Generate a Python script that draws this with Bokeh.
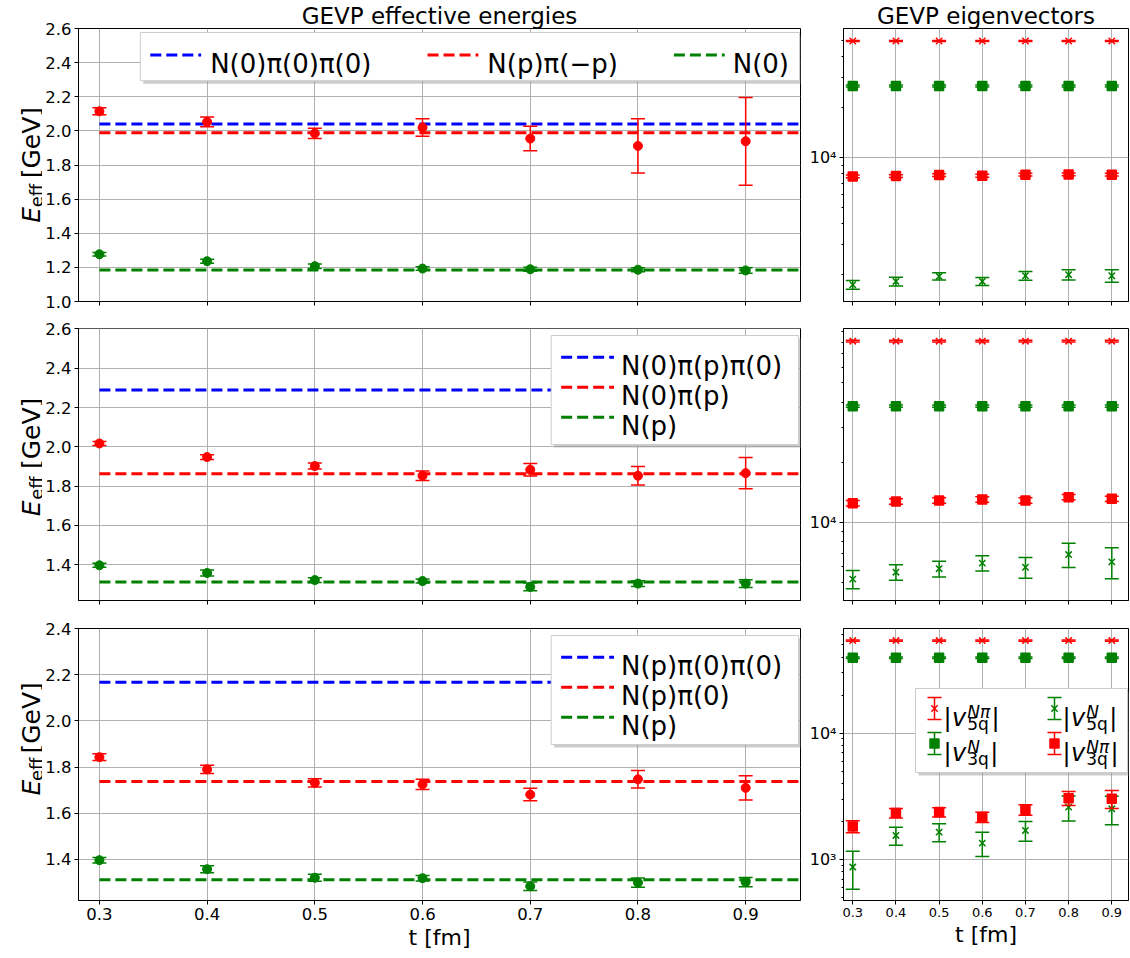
import math
from bokeh.plotting import figure
from bokeh.layouts import column, row
from bokeh.models import Range1d, FixedTicker, Label, NumeralTickFormatter
from bokeh.embed import file_html
from bokeh.resources import INLINE

FONT = "DejaVu Sans"
RED, GREEN, BLUE = "#ff0000", "#008000", "#0000ff"

# ------------------------------------------------------------------ data
t = [0.3, 0.4, 0.5, 0.6, 0.7, 0.8, 0.9]
t_fit = [0.3, 1.0]

# effective energies (GeV), row 1: N(0)pi(0)pi(0) / N(p)pi(-p) / N(0)
E_P0_Npi = [2.115, 2.053, 1.985, 2.020, 1.955, 1.912, 1.939]
E_P0_Npi_err = [0.020, 0.029, 0.030, 0.051, 0.072, 0.159, 0.257]
E_P0_N = [1.277, 1.236, 1.207, 1.193, 1.189, 1.186, 1.182]
E_P0_N_err = [0.010, 0.012, 0.013, 0.010, 0.012, 0.012, 0.016]
fit_P0 = [2.040, 1.989, 1.184]
leg_P0 = ["N(0)π(0)π(0)", "N(p)π(−p)", "N(0)"]

# row 2
E_P1_Npi = [2.017, 1.948, 1.902, 1.853, 1.883, 1.853, 1.866]
E_P1_Npi_err = [0.010, 0.012, 0.015, 0.024, 0.032, 0.047, 0.080]
E_P1_N = [1.397, 1.358, 1.322, 1.317, 1.287, 1.304, 1.304]
E_P1_N_err = [0.010, 0.015, 0.012, 0.010, 0.020, 0.015, 0.020]
fit_P1 = [2.289, 1.863, 1.312]
leg_P1 = ["N(0)π(p)π(0)", "N(0)π(p)", "N(p)"]

# row 3
E_P2_Npi = [1.843, 1.790, 1.732, 1.725, 1.681, 1.747, 1.710]
E_P2_Npi_err = [0.015, 0.018, 0.018, 0.022, 0.027, 0.038, 0.053]
E_P2_N = [1.397, 1.358, 1.321, 1.319, 1.284, 1.300, 1.302]
E_P2_N_err = [0.012, 0.015, 0.015, 0.012, 0.018, 0.020, 0.020]
fit_P2 = [2.167, 1.738, 1.312]
leg_P2 = ["N(p)π(0)π(0)", "N(p)π(0)", "N(p)"]

# eigenvector components
v_P0_5q_Npi = [49600, 49600, 49600, 49600, 49600, 49600, 49600]
v_P0_5q_Npi_err = [300, 300, 300, 300, 300, 300, 300]
v_P0_3q_N = [26700, 26700, 26700, 26700, 26700, 26700, 26700]
v_P0_3q_N_err = [400, 400, 400, 400, 400, 400, 400]
v_P0_5q_N = [1734, 1815, 1945, 1815, 1963, 1991, 1963]
v_P0_5q_N_err = [103, 108, 97, 100, 117, 137, 171]
v_P0_3q_Npi = [7700, 7735, 7843, 7771, 7880, 7916, 7880]
v_P0_3q_Npi_err = [150, 150, 150, 150, 150, 150, 150]

v_P1_5q_Npi = [80900, 80900, 80900, 80900, 80900, 80900, 80900]
v_P1_5q_Npi_err = [800, 800, 800, 800, 800, 800, 800]
v_P1_3q_N = [38200, 38200, 38200, 38200, 38200, 38200, 38200]
v_P1_3q_N_err = [500, 500, 500, 500, 500, 500, 500]
v_P1_5q_N = [5180, 5610, 5840, 6230, 5940, 6880, 6320]
v_P1_5q_N_err = [545, 505, 535, 550, 710, 960, 1125]
v_P1_3q_Npi = [12450, 12690, 12850, 13000, 12850, 13350, 13100]
v_P1_3q_Npi_err = [400, 400, 400, 400, 400, 400, 400]

v_P2_5q_Npi = [54100, 54100, 54100, 54100, 54100, 54100, 54100]
v_P2_5q_Npi_err = [600, 600, 600, 600, 600, 600, 600]
v_P2_3q_N = [39500, 39500, 39500, 39500, 39500, 39500, 39500]
v_P2_3q_N_err = [500, 500, 500, 500, 500, 500, 500]
v_P2_5q_N = [870, 1549, 1646, 1347, 1697, 2596, 2518]
v_P2_5q_N_err = [290, 253, 268, 292, 302, 580, 640]
v_P2_3q_Npi = [1825, 2327, 2370, 2163, 2472, 3058, 3020]
v_P2_3q_Npi_err = [200, 200, 200, 205, 235, 390, 490]

yticks_P0 = [1.0, 1.2, 1.4, 1.6, 1.8, 2.0, 2.2, 2.4, 2.6]
yticks_P1 = [1.4, 1.6, 1.8, 2.0, 2.2, 2.4, 2.6]
yticks_P2 = [1.4, 1.6, 1.8, 2.0, 2.2, 2.4]
log_major = [1000, 10000]
log_major_labels = {1000: "10³", 10000: "10⁴"}
log_minor = [m * 10 ** k for k in (2, 3, 4) for m in range(2, 10)]

titles = ["GEVP effective energies", "GEVP eigenvectors"]
xlabel = "t [fm]"

# ------------------------------------------------------------------ geometry helpers
XR_L = (0.2806, 0.9509)
XR_R = (0.2785, 0.9387)


class Frame:
    def __init__(self, L, T, R, B, xr, yr, log=False):
        self.L, self.T, self.R, self.B = L, T, R, B
        self.xr, self.yr, self.log = xr, yr, log

    def x(self, px):
        return self.xr[0] + (px - self.L) / (self.R - self.L) * (self.xr[1] - self.xr[0])

    def y(self, py):
        f = (py - self.T) / (self.B - self.T)
        if self.log:
            a, b = math.log10(self.yr[0]), math.log10(self.yr[1])
            return 10 ** (b - f * (b - a))
        return self.yr[1] - f * (self.yr[1] - self.yr[0])


def make_fig(w, h, bl, br, bt, bb, xr, yr, log=False, show_xlabels=False):
    p = figure(width=w, height=h, x_range=Range1d(*xr), y_range=Range1d(*yr),
               y_axis_type="log" if log else "linear",
               output_backend="svg", toolbar_location=None,
               min_border_left=bl, min_border_right=br,
               min_border_top=bt, min_border_bottom=bb)
    p.outline_line_color = "black"
    p.outline_line_width = 1
    p.background_fill_color = "white"
    p.border_fill_color = "white"
    for ax in (p.xaxis[0], p.yaxis[0]):
        ax.axis_line_color = "black"
        ax.major_tick_line_color = "black"
        ax.minor_tick_line_color = "black"
        ax.major_tick_out = 4
        ax.major_tick_in = 0
        ax.minor_tick_out = 2
        ax.minor_tick_in = 0
        ax.major_label_text_font = FONT
        ax.major_label_text_color = "black"
        ax.major_label_standoff = 3
        ax.axis_label_text_font = FONT
        ax.axis_label_text_font_style = "normal"
        ax.axis_label_text_color = "black"
        ax.axis_label_standoff = 2
    xt = FixedTicker(ticks=t, minor_ticks=[])
    p.xaxis.ticker = xt
    p.xgrid.ticker = xt
    p.xaxis.formatter = NumeralTickFormatter(format="0.0")
    if not show_xlabels:
        p.xaxis.major_label_overrides = {v: "" for v in t}
    p.grid.grid_line_color = "#b0b0b0"
    p.grid.grid_line_width = 1
    return p


def label_fig(w, h):
    p = figure(width=w, height=h, x_range=Range1d(0, w), y_range=Range1d(0, h),
               output_backend="svg", toolbar_location=None,
               x_axis_location=None, y_axis_location=None,
               min_border_left=0, min_border_right=0, min_border_top=0, min_border_bottom=0)
    p.outline_line_color = None
    p.grid.visible = False
    p.background_fill_color = "white"
    p.border_fill_color = "white"
    return p


def txt(p, fr, px, py, s, size, style="normal", align="left", angle=0.0):
    p.add_layout(Label(x=fr.x(px), y=fr.y(py), text=s, text_font=FONT,
                       text_font_size=f"{size}px", text_font_style=style,
                       text_align=align, text_baseline="alphabetic",
                       angle=angle, text_color="black"))


def err_bars(p, x, y, e, color, cap=14, lw=1.5):
    lo = [a - b for a, b in zip(y, e)]
    hi = [a + b for a, b in zip(y, e)]
    p.segment(x0=x, y0=lo, x1=x, y1=hi, line_color=color, line_width=lw)
    p.scatter(x=x + x, y=lo + hi, marker="dash", size=cap, line_color=color, line_width=lw)


def legend_box(p, fr, L, T, R, B):
    p.quad(left=[fr.x(L + 3)], right=[fr.x(R + 3)], top=[fr.y(T + 3)], bottom=[fr.y(B + 3)],
           fill_color="#999999", fill_alpha=0.5, line_color=None)
    p.quad(left=[fr.x(L)], right=[fr.x(R)], top=[fr.y(T)], bottom=[fr.y(B)],
           fill_color="white", fill_alpha=1.0, line_color="#cccccc", line_width=1)


def energy_panel(p, fits, Npi, Npi_err, N, N_err, yticks):
    yt = FixedTicker(ticks=yticks, minor_ticks=[])
    p.yaxis.ticker = yt
    p.ygrid.ticker = yt
    p.yaxis.formatter = NumeralTickFormatter(format="0.0")
    p.yaxis.major_label_text_font_size = "16.5px"
    p.xaxis.major_label_text_font_size = "16.5px"
    for val, col in zip(fits, [BLUE, RED, GREEN]):
        p.line(t_fit, [val, val], line_color=col, line_width=3, line_dash="11 5")
    err_bars(p, t, Npi, Npi_err, RED)
    p.scatter(t, Npi, marker="circle", size=9, color=RED)
    err_bars(p, t, N, N_err, GREEN)
    p.scatter(t, N, marker="circle", size=9, color=GREEN)


def ylabel(lp, lf, c):
    # y axis label  E_eff [GeV], centred on page y c
    s = c + 62
    txt(lp, lf, 31, s, "E", 25, "italic", angle=math.pi / 2)
    txt(lp, lf, 35.5, s - 18, "eff", 18, angle=math.pi / 2)
    txt(lp, lf, 31, s - 52, "[GeV]", 25, angle=math.pi / 2)


def legend_row(p, fr, labels):
    L, R = fr.L + 62, fr.R - 1
    T, B = fr.T + 4, fr.T + 52
    legend_box(p, fr, L, T, R, B)
    ly = fr.T + 26.5
    xs = [(72, 132), (350, 410), (597, 656)]
    for (lx, tx), lab, col in zip(xs, labels, [BLUE, RED, GREEN]):
        p.line([fr.x(fr.L + lx), fr.x(fr.L + lx + 51)], [fr.y(ly), fr.y(ly)],
               line_color=col, line_width=3, line_dash="11 5")
        txt(p, fr, fr.L + tx, ly + 9, lab, 26)


def legend_col(p, fr, labels):
    L, R = fr.L + 474, fr.R - 2
    T, B = fr.T + 7, fr.T + 116
    legend_box(p, fr, L, T, R, B)
    for i, (lab, col) in enumerate(zip(labels, [BLUE, RED, GREEN])):
        ly = fr.T + 28.7 + 30 * i
        p.line([fr.x(fr.L + 484), fr.x(fr.L + 537)], [fr.y(ly), fr.y(ly)],
               line_color=col, line_width=3, line_dash="11 5")
        txt(p, fr, fr.L + 544, ly + 9, lab, 26)


def vec_panel(p, series):
    yt = FixedTicker(ticks=log_major, minor_ticks=log_minor)
    p.yaxis.ticker = yt
    p.ygrid.ticker = yt
    p.yaxis.major_label_overrides = log_major_labels
    p.yaxis.major_label_text_font_size = "16px"
    p.xaxis.major_label_text_font_size = "13px"
    for vals, errs, marker, col in series:
        err_bars(p, t, vals, errs, col)
        p.scatter(t, vals, marker=marker, size=9, color=col, line_width=1.5)


def vec_label(p, fr, px, py, sup, sub):
    txt(p, fr, px, py + 9, "|", 24)
    txt(p, fr, px + 8.5, py + 9, "v", 24, "italic")
    txt(p, fr, px + 23.7, py + 3, sup, 17, "italic")
    txt(p, fr, px + 23.7, py + 15, sub, 17)
    wsup = 22.9 if len(sup) > 1 else 12.7
    txt(p, fr, px + 23.7 + max(wsup, 21.6) + 1.5, py + 9, "|", 24)


def vec_legend(p, fr):
    R = fr.R - 1
    L = R - 212
    T, B = fr.T + 60, fr.T + 144
    legend_box(p, fr, L, T, R, B)
    items = [(0, 0, "x", RED, "Nπ", "5q"), (0, 1, "square", GREEN, "N", "3q"),
             (1, 0, "x", GREEN, "N", "5q"), (1, 1, "square", RED, "Nπ", "3q")]
    for col, rw, marker, color, sup, sub in items:
        ry = T + 20 + 35 * rw
        mx = fr.x(L + 19 + 120 * col)
        ylo, yhi = fr.y(ry + 11), fr.y(ry - 11)
        p.segment(x0=[mx], y0=[ylo], x1=[mx], y1=[yhi], line_color=color, line_width=1.5)
        p.scatter(x=[mx, mx], y=[ylo, yhi], marker="dash", size=14, line_color=color, line_width=1.5)
        p.scatter(x=[mx], y=[fr.y(ry)], marker=marker, size=9, color=color, line_width=1.5)
        vec_label(p, fr, L + 28 + 119 * col, ry, sup, sub)


# ------------------------------------------------------------------ figures
YR_P0 = (1.0, 2.6)
YR_P1 = (1.218, 2.602)
YR_P2 = (1.2224, 2.4)
YR_V0 = (1377, 58900)
YR_V1 = (4045, 93700)
YR_V2 = (473, 67400)

# page rows: [0,319], [319,619], [619,956]
ROWS = [(0, 319), (319, 619), (619, 956)]
F1 = Frame(76, 29, 800, 301, XR_L, YR_P0)
F2 = Frame(76, 328, 800, 600, XR_L, YR_P1)
F3 = Frame(76, 628, 800, 900, XR_L, YR_P2)
G1 = Frame(843, 29, 1128, 301, XR_R, YR_V0, log=True)
G2 = Frame(843, 328, 1128, 600, XR_R, YR_V1, log=True)
G3 = Frame(843, 628, 1128, 900, XR_R, YR_V2, log=True)

LW = 42  # width of the y-label strip
p1 = make_fig(759, 319, 34, 1, 28, 18, XR_L, YR_P0)
q1 = make_fig(329, 319, 42, 2, 28, 18, XR_R, YR_V0, log=True)
p2 = make_fig(759, 300, 34, 1, 9, 19, XR_L, YR_P1)
q2 = make_fig(329, 300, 42, 2, 9, 19, XR_R, YR_V1, log=True)
p3 = make_fig(759, 337, 34, 1, 9, 56, XR_L, YR_P2, show_xlabels=True)
q3 = make_fig(329, 337, 42, 2, 9, 56, XR_R, YR_V2, log=True, show_xlabels=True)

strips = []
for (top, bot), fr in zip(ROWS, (F1, F2, F3)):
    h = bot - top
    lp = label_fig(LW, h)
    lf = Frame(0, top, LW, bot, (0, LW), (0, h))
    ylabel(lp, lf, (fr.T + fr.B) / 2)
    strips.append(lp)

energy_panel(p1, fit_P0, E_P0_Npi, E_P0_Npi_err, E_P0_N, E_P0_N_err, yticks_P0)
legend_row(p1, F1, leg_P0)
energy_panel(p2, fit_P1, E_P1_Npi, E_P1_Npi_err, E_P1_N, E_P1_N_err, yticks_P1)
legend_col(p2, F2, leg_P1)
energy_panel(p3, fit_P2, E_P2_Npi, E_P2_Npi_err, E_P2_N, E_P2_N_err, yticks_P2)
legend_col(p3, F3, leg_P2)

vec_panel(q1, [(v_P0_5q_Npi, v_P0_5q_Npi_err, "x", RED), (v_P0_3q_N, v_P0_3q_N_err, "square", GREEN),
               (v_P0_5q_N, v_P0_5q_N_err, "x", GREEN), (v_P0_3q_Npi, v_P0_3q_Npi_err, "square", RED)])
vec_panel(q2, [(v_P1_5q_Npi, v_P1_5q_Npi_err, "x", RED), (v_P1_3q_N, v_P1_3q_N_err, "square", GREEN),
               (v_P1_5q_N, v_P1_5q_N_err, "x", GREEN), (v_P1_3q_Npi, v_P1_3q_Npi_err, "square", RED)])
vec_panel(q3, [(v_P2_5q_Npi, v_P2_5q_Npi_err, "x", RED), (v_P2_3q_N, v_P2_3q_N_err, "square", GREEN),
               (v_P2_5q_N, v_P2_5q_N_err, "x", GREEN), (v_P2_3q_Npi, v_P2_3q_Npi_err, "square", RED)])
vec_legend(q3, G3)

for p in (p3, q3):
    p.xaxis.axis_label = xlabel
    p.xaxis.axis_label_text_font_size = "22px"

for p, ttl in ((p1, titles[0]), (q1, titles[1])):
    p.title.text = ttl
    p.title.align = "center"
    p.title.text_font = FONT
    p.title.text_font_size = "23px"
    p.title.text_font_style = "normal"
    p.title.text_color = "black"
    p.title.standoff = 0

layout = column(row(strips[0], p1, q1), row(strips[1], p2, q2), row(strips[2], p3, q3))
open("out.html", "w").write(file_html(layout, INLINE))
